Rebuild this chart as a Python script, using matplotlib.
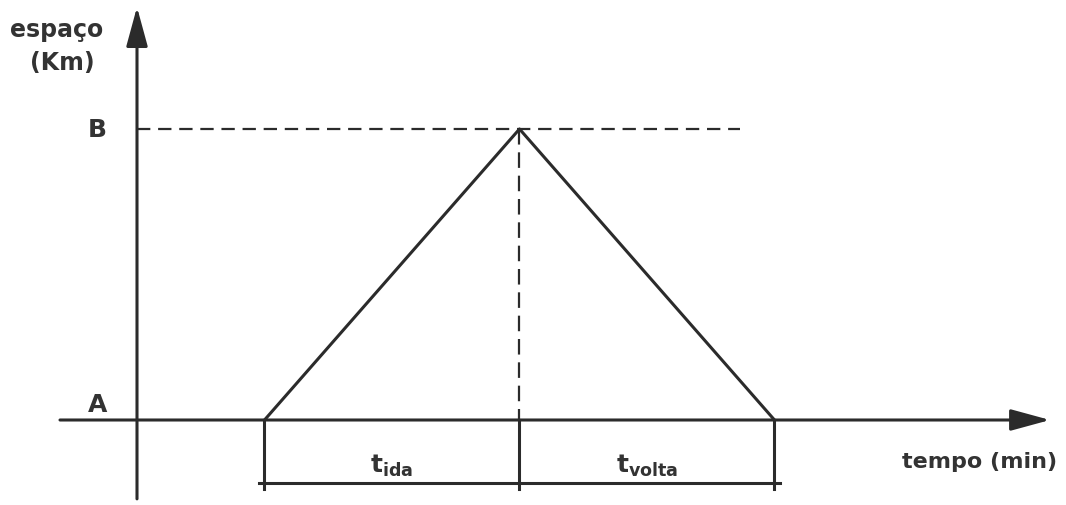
import matplotlib
matplotlib.use("Agg")
import matplotlib.pyplot as plt

# data (time units, space units)
tempo = [1, 3, 5]          # início, chegada em B, volta em A
espaco = [0, 1, 0]         # A -> B -> A
niveis = {"A": 0, "B": 1}
rotulos_intervalos = [r"$\mathregular{t_{ida}}$", r"$\mathregular{t_{volta}}$"]

COR = "#2b2b2b"
TXT = "#333333"
plt.rcParams["font.family"] = ["DejaVu Sans"]
plt.rcParams["mathtext.fontset"] = "dejavusans"
plt.rcParams["font.weight"] = "bold"

fig = plt.figure(figsize=(10.66, 5.06), dpi=100)
ax = fig.add_axes([0, 0, 1, 1])
ax.set_xlim(-1.0745, 7.2863)
ax.set_ylim(-0.2921, 1.4467)
ax.axis("off")

lw = 2.2
arrow = dict(arrowstyle="-|>,head_length=1.1,head_width=0.3",
             lw=lw, color=COR, mutation_scale=22, shrinkA=0, shrinkB=0)
# axes with arrows
ax.annotate("", xy=(0, 1.419), xytext=(0, -0.271), arrowprops=arrow)
ax.annotate("", xy=(7.161, 0), xytext=(-0.604, 0), arrowprops=arrow)

# triangle path
ax.plot(tempo, espaco, color=COR, lw=lw, solid_capstyle="butt")

# dashed guides
tB = tempo[1]
ax.plot([0, 4.73], [niveis["B"], niveis["B"]], color=COR, lw=1.6, dashes=(6, 3.5))
ax.plot([tB, tB], [niveis["B"], niveis["A"]], color=COR, lw=1.6, dashes=(7, 3.5))

# dimension lines
ydim = -0.2165
ybot = -0.237
for t in tempo:
    ax.plot([t, t], [niveis["A"], ybot], color=COR, lw=lw)
ax.plot([tempo[0] - 0.04, tempo[-1] + 0.04], [ydim, ydim], color=COR, lw=lw)

# interval labels
for i, lab in enumerate(rotulos_intervalos):
    xm = (tempo[i] + tempo[i + 1]) / 2
    ax.text(xm, -0.155, lab, ha="center", va="center", fontsize=18, color=TXT)

# axis labels
ax.text(-0.6275, 1.3436, "espaço", ha="center", va="center", fontsize=17, color=TXT)
ax.text(-0.588, 1.23, "(Km)", ha="center", va="center", fontsize=17, color=TXT)
for k, v in niveis.items():
    ax.text(-0.31, v + (0.055 if v == 0 else 0), k, ha="center", va="center",
            fontsize=18, color=TXT)
ax.text(6.612, -0.141, "tempo (min)", ha="center", va="center", fontsize=16, color=TXT)

fig.savefig("out.png", dpi=100)
